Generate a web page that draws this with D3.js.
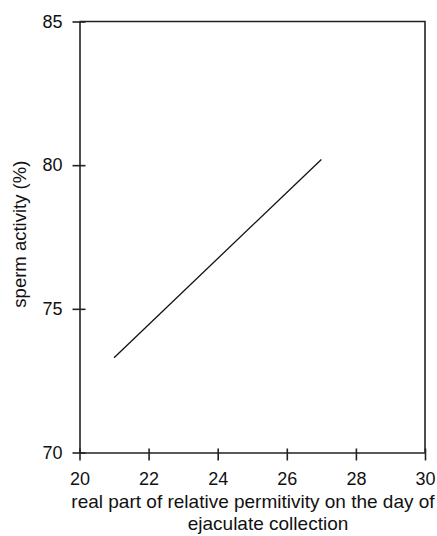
<!DOCTYPE html>
<html lang="en">
<head>
<meta charset="utf-8">
<title>Sperm activity vs relative permittivity</title>
<script src="https://d3js.org/d3.v7.min.js"></script>
<style>
  body { margin: 0; background: #fff; }
  text { font-family: "Liberation Sans", Arial, sans-serif; fill: #111; }
</style>
</head>
<body>
<script>
// data
const xTicks = [20, 22, 24, 26, 28, 30];
const yTicks = [70, 75, 80, 85];
const fitX = [21.0, 27.0];
const fitY = [73.3, 80.2];
const xLabelLines = ["real part of relative permitivity on the day of", "ejaculate collection"];
const yLabel = "sperm activity (%)";

const width = 437, height = 536;
const margin = {top: 21.5, right: 12, bottom: 83.5, left: 79.5};

const svg = d3.select("body").append("svg")
  .attr("width", width)
  .attr("height", height);

const x = d3.scaleLinear().domain([20, 30]).range([margin.left, width - margin.right]);
const y = d3.scaleLinear().domain([70, 85]).range([height - margin.bottom, margin.top]);

// frame (top + right)
svg.append("path")
  .attr("d", `M${x(20)},${y(85)}H${x(30)}V${y(70)}`)
  .attr("fill", "none")
  .attr("stroke", "#222")
  .attr("stroke-width", 1.6);

// x axis
const gx = svg.append("g")
  .attr("transform", `translate(0,${y(70)})`)
  .call(d3.axisBottom(x).tickValues(xTicks).tickSize(8).tickPadding(12).tickSizeOuter(0));
gx.attr("font-size", 18).attr("font-family", null);
gx.selectAll(".tick line").attr("y1", -4);

// y axis
const gy = svg.append("g")
  .attr("transform", `translate(${x(20)},0)`)
  .call(d3.axisLeft(y).tickValues(yTicks).tickSize(7).tickPadding(10).tickSizeOuter(0));
gy.attr("font-size", 18).attr("font-family", null);
gy.selectAll(".tick line").attr("x1", 6);

svg.selectAll(".domain, .tick line").attr("stroke", "#222").attr("stroke-width", 1.6);

// fitted line
const pts = fitX.map((v, i) => [v, fitY[i]]);
svg.append("path")
  .datum(pts)
  .attr("d", d3.line().x(d => x(d[0])).y(d => y(d[1])))
  .attr("fill", "none")
  .attr("stroke", "#111")
  .attr("stroke-width", 1.3);

// axis titles
svg.append("text")
  .attr("x", 253).attr("y", 508)
  .attr("text-anchor", "middle")
  .attr("font-size", 19)
  .text(xLabelLines[0]);
svg.append("text")
  .attr("x", 268).attr("y", 530)
  .attr("text-anchor", "middle")
  .attr("font-size", 19)
  .text(xLabelLines[1]);

svg.append("text")
  .attr("transform", `translate(26,${y(77.6)}) rotate(-90)`)
  .attr("text-anchor", "middle")
  .attr("font-size", 18.5)
  .text(yLabel);
</script>
</body>
</html>
